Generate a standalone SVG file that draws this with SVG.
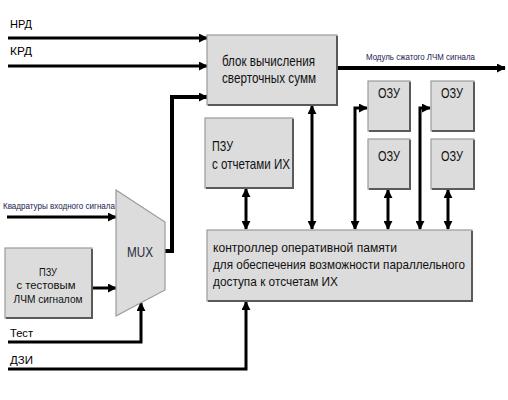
<svg xmlns="http://www.w3.org/2000/svg" width="508" height="400" viewBox="0 0 508 400">
<style>
.box{fill:#dcdcdc;stroke:#9a9a9a;stroke-width:1.2}
.sh{fill:none;stroke:#5a5a5a;stroke-width:2}
.t{font-family:"Liberation Sans",Arial,sans-serif;font-size:14.5px;fill:#111}
.tc{font-family:"Liberation Sans",Arial,sans-serif;font-size:13.5px;fill:#111}
.s{font-family:"Liberation Sans",Arial,sans-serif;font-size:11.5px;fill:#111}
.lbl{font-family:"Liberation Sans",Arial,sans-serif;font-size:11.5px;fill:#000}
.sm{font-family:"Liberation Sans",Arial,sans-serif;font-size:9.5px;fill:#1a1a50}
.c{fill:none;stroke:#000;stroke-width:3}
.c2{fill:none;stroke:#000;stroke-width:4}
.ca{marker-end:url(#ah)}
.cd{marker-start:url(#ah);marker-end:url(#ah)}
</style>
<defs>
<marker id="ah" viewBox="0 0 10 10" refX="9" refY="5" markerWidth="9" markerHeight="9" markerUnits="userSpaceOnUse" orient="auto-start-reverse">
<path d="M0,0 L10,5 L0,10 z" fill="#000"/>
</marker>
</defs>
<rect width="508" height="400" fill="#fff"/>

<g id="connectors">
<path class="c ca" d="M8,38 H207"/>
<path class="c ca" d="M8,66 H207"/>
<path class="c2 ca" d="M165,251 H172 V97 H207"/>
<path class="c2 ca" d="M337,68 H505"/>
<path class="c cd" d="M312,106 V229"/>
<path class="c cd" d="M355,229 V108 H367"/>
<path class="c cd" d="M388,190 V229"/>
<path class="c cd" d="M420,229 V108 H430"/>
<path class="c cd" d="M448,190 V229"/>
<path class="c cd" d="M246,189 V229"/>
<path class="c ca" d="M7,217 H116"/>
<path class="c ca" d="M92,288 H116"/>
<path class="c ca" d="M8,342 H141 V303"/>
<path class="c ca" d="M8,369 H246 V302"/>
</g>

<g id="labels">
<text class="lbl" x="10" y="28" textLength="22" lengthAdjust="spacingAndGlyphs">НРД</text>
<text class="lbl" x="10" y="55" textLength="22" lengthAdjust="spacingAndGlyphs">КРД</text>
<text class="sm" x="3" y="209" textLength="112" lengthAdjust="spacingAndGlyphs">Квадратуры входного сигнала</text>
<text class="sm" x="366" y="60" textLength="109" lengthAdjust="spacingAndGlyphs">Модуль сжатого ЛЧМ сигнала</text>
<text class="lbl" x="10" y="337" textLength="23" lengthAdjust="spacingAndGlyphs">Тест</text>
<text class="lbl" x="10" y="364" textLength="23" lengthAdjust="spacingAndGlyphs">ДЗИ</text>
</g>

<g id="conv">
<rect class="box" x="207" y="35" width="130" height="70"/>
<path class="sh" d="M208,105 H337 V36"/>
<text class="t" x="222" y="66" textLength="93" lengthAdjust="spacingAndGlyphs">блок вычисления</text>
<text class="t" x="222" y="83" textLength="94" lengthAdjust="spacingAndGlyphs">сверточных сумм</text>
</g>

<g id="ozu1">
<rect class="box" x="368" y="81" width="42" height="50"/>
<path class="sh" d="M369,131 H410 V82"/>
<text class="t" x="378" y="98" textLength="22" lengthAdjust="spacingAndGlyphs">ОЗУ</text>
</g>
<g id="ozu2">
<rect class="box" x="431" y="81" width="43" height="50"/>
<path class="sh" d="M432,131 H474 V82"/>
<text class="t" x="441" y="98" textLength="22" lengthAdjust="spacingAndGlyphs">ОЗУ</text>
</g>
<g id="ozu3">
<rect class="box" x="368" y="139" width="42" height="50"/>
<path class="sh" d="M369,189 H410 V140"/>
<text class="t" x="378" y="161" textLength="22" lengthAdjust="spacingAndGlyphs">ОЗУ</text>
</g>
<g id="ozu4">
<rect class="box" x="431" y="139" width="43" height="50"/>
<path class="sh" d="M432,189 H474 V140"/>
<text class="t" x="441" y="161" textLength="22" lengthAdjust="spacingAndGlyphs">ОЗУ</text>
</g>

<g id="pzu-ih">
<rect class="box" x="205" y="118" width="88" height="70"/>
<path class="sh" d="M206,188 H293 V119"/>
<text class="t" x="212" y="151" textLength="21" lengthAdjust="spacingAndGlyphs">ПЗУ</text>
<text class="t" x="212" y="169" textLength="78" lengthAdjust="spacingAndGlyphs">с отчетами ИХ</text>
</g>

<g id="controller">
<rect class="box" x="207" y="230" width="265" height="71"/>
<path class="sh" d="M208,301 H472 V231"/>
<text class="tc" x="213" y="252" textLength="184" lengthAdjust="spacingAndGlyphs">контроллер оперативной памяти</text>
<text class="tc" x="213" y="269" textLength="252" lengthAdjust="spacingAndGlyphs">для обеспечения возможности параллельного</text>
<text class="tc" x="213" y="286" textLength="125" lengthAdjust="spacingAndGlyphs">доступа к отсчетам ИХ</text>
</g>

<g id="mux">
<polygon points="116,190 165,222 165,290 116,316" fill="#dcdcdc" stroke="#9a9a9a" stroke-width="1.2"/>
<text x="127" y="257" font-family="Liberation Sans,Arial,sans-serif" font-size="15.5" fill="#2a2a3a" textLength="26" lengthAdjust="spacingAndGlyphs">MUX</text>
</g>

<g id="pzu-test">
<rect class="box" x="5" y="248" width="87" height="70"/>
<path class="sh" d="M6,318 H92 V249"/>
<text class="s" x="48" y="276" text-anchor="middle" textLength="18" lengthAdjust="spacingAndGlyphs">ПЗУ</text>
<text class="s" x="46" y="289" text-anchor="middle" textLength="59" lengthAdjust="spacingAndGlyphs">с тестовым</text>
<text class="s" x="48" y="303" text-anchor="middle" textLength="69" lengthAdjust="spacingAndGlyphs">ЛЧМ сигналом</text>
</g>
</svg>
